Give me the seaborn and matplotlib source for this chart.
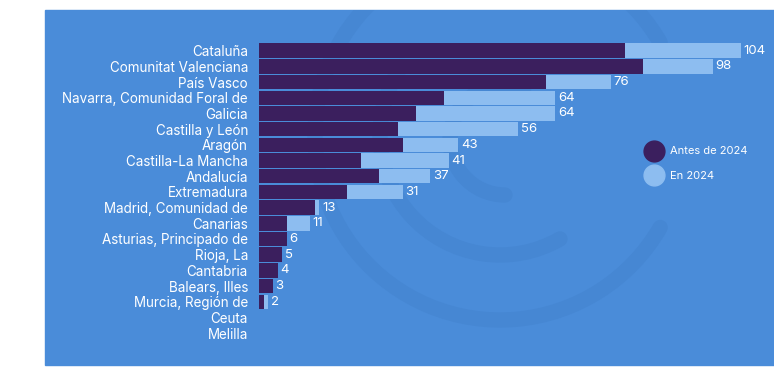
import matplotlib; matplotlib.use("Agg")
import matplotlib.pyplot as plt
from matplotlib.patches import Rectangle, Arc
from matplotlib.lines import Line2D
import pandas as pd
import seaborn as sns

# ──────────────────────────────────────────────────────────
# Data
# ──────────────────────────────────────────────────────────
regions = [
    "Cataluña", "Comunitat Valenciana", "País Vasco", "Navarra, Comunidad Foral de",
    "Galicia", "Castilla y León", "Aragón", "Castilla-La Mancha", "Andalucía",
    "Extremadura", "Madrid, Comunidad de", "Canarias", "Asturias, Principado de",
    "Rioja, La", "Cantabria", "Balears, Illes", "Murcia, Región de", "Ceuta", "Melilla",
]
antes_2024 = [79, 83, 62, 40, 34, 30, 31, 22, 26, 19, 12, 6, 6, 5, 4, 3, 1, 0, 0]
en_2024 = [25, 15, 14, 24, 30, 26, 12, 19, 11, 12, 1, 5, 0, 0, 0, 0, 1, 0, 0]
series_labels = ["Antes de 2024", "En 2024"]

BG = "#4a8cd9"
MARK = "#4687d3"
DARK = "#3b1f5e"
LIGHT = "#8dbdf0"

df = pd.DataFrame({"region": regions, "antes": antes_2024, "en": en_2024})
df["total"] = df["antes"] + df["en"]

sns.set_theme(style="white")
plt.rcParams["font.family"] = ["Inter", "DejaVu Sans"]

fig = plt.figure(figsize=(7.74, 3.77), dpi=100)
fig.patch.set_facecolor("white")

# background panel + faint watermark, in pixel coordinates
bg = fig.add_axes([0, 0, 1, 1], zorder=-5)
bg.set_xlim(0, 774)
bg.set_ylim(377, 0)
bg.axis("off")
panel = Rectangle((45, 10), 729, 355, color=BG)
bg.add_patch(panel)
for (cx, cy, r, t1, t2) in [(500, 135, 185, 30, 250), (500, 135, 120, 60, 215),
                            (505, 140, 55, 90, 290), (500, 135, 185, 285, 330)]:
    arc = Arc((cx, cy), 2 * r, 2 * r, theta1=t1, theta2=t2,
              color=MARK, linewidth=11, capstyle="round")
    bg.add_patch(arc)
    arc.set_clip_path(panel)

ax = fig.add_axes([259 / 774, 0.0955, 1 - 259 / 774, 0.791])
ax.set_facecolor("none")

sns.barplot(data=df, y="region", x="total", color=LIGHT, width=0.92,
            saturation=1, linewidth=0, ax=ax, orient="h")
sns.barplot(data=df, y="region", x="antes", color=DARK, width=0.92,
            saturation=1, linewidth=0, ax=ax, orient="h")

for i, t in enumerate(df["total"]):
    if t > 0:
        ax.text(t + 0.6, i, str(t), va="center", ha="left", color="white", fontsize=9.5)

ax.set_xlim(0, (774 - 259) / 4.63)
ax.set_xlabel("")
ax.set_ylabel("")
ax.set_xticks([])
ax.tick_params(axis="y", length=0, pad=8, labelsize=9.7, labelcolor="white")
for s in ax.spines.values():
    s.set_visible(False)

handles = [Line2D([], [], marker="o", linestyle="", markersize=15,
                  markerfacecolor=c, markeredgecolor=c) for c in (DARK, LIGHT)]
leg = fig.legend(handles, series_labels, loc="upper left", bbox_to_anchor=(638 / 774, 1 - 142 / 377),
                 frameon=False, fontsize=8, labelcolor="white", handletextpad=0.5,
                 labelspacing=1.3, borderaxespad=0)

fig.savefig("out.png", dpi=100)
plt.close(fig)
